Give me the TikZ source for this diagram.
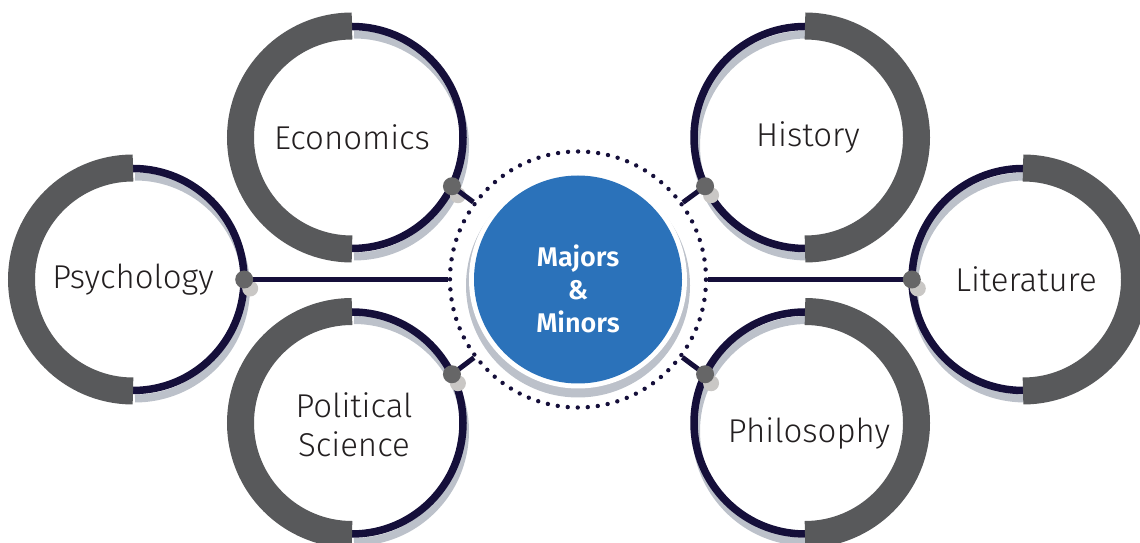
\documentclass[tikz,border=0pt]{standalone}
\usepackage{fontspec}
\setmainfont{Fira Sans}[UprightFont=* Light, BoldFont=* SemiBold]
\definecolor{ringgray}{HTML}{58595B}
\definecolor{ringnavy}{HTML}{150F3A}
\definecolor{shadowgray}{HTML}{BCC1CA}
\definecolor{jointgray}{HTML}{666667}
\definecolor{jointshadow}{HTML}{C9C7C5}
\definecolor{hubblue}{HTML}{2B72BA}
\definecolor{ink}{HTML}{231F20}

\begin{document}
\begin{tikzpicture}
    [x=1pt,y=1pt,
    subject/.style={circle,minimum size=222pt,inner sep=0pt},
    subject text/.style={text=ink,align=center,font=\fontsize{33}{39}\selectfont},
    hub/.style={circle,fill=hubblue,minimum size=208pt,inner sep=0pt},
    hub text/.style={text=white,align=center,font=\fontsize{27}{33}\selectfont\bfseries},
    ring/.style={circle,minimum size=256pt,inner sep=0pt,draw=ringnavy,line width=4.4pt,line cap=round,dash pattern=on 0pt off 10.05pt},
    gray arc/.style={draw=ringgray,line width=27pt},
    navy arc/.style={draw=ringnavy,line width=7.5pt},
    shadow arc/.style={draw=shadowgray,line width=8pt},
    link/.style={draw=ringnavy,line width=5pt},
    joint/.style={fill=jointgray},
    joint shadow/.style={fill=jointshadow}]

    \useasboundingbox (0,0) rectangle (1140,543);

    \node[subject,label={[subject text]center:Psychology}] (Psychology) at (133,263.5) {};
    \node[subject,label={[subject text]center:Economics}] (Economics) at (352,405.5) {};
    \node[subject,label={[subject text,xshift=2pt,yshift=-2pt]center:Political\\Science}] (PoliticalScience) at (352,120) {};
    \node[subject,label={[subject text,xshift=3pt]center:History}] (History) at (805,405.5) {};
    \node[subject,label={[subject text,xshift=3pt]center:Literature}] (Literature) at (1023,263.5) {};
    \node[subject,label={[subject text,xshift=4pt,yshift=-10pt]center:Philosophy}] (Philosophy) at (805,120) {};

    \coordinate (Center) at (578,263.5);
    \fill[shadowgray] (Center) ++(0,-6) circle (112);
    \fill[white] (Center) circle (109);
    \node[hub,label={[hub text,yshift=-9pt]center:Majors\\\&\\Minors}] (Majors) at (Center) {};
    \node[ring] (Ring) at (Center) {};

    % rings: gray half outside, navy half facing the hub
    \foreach \name/\side in {Psychology/1,Economics/1,PoliticalScience/1,History/-1,Literature/-1,Philosophy/-1} {
        \pgfmathsetmacro{\from}{-90*\side}
        \draw[shadow arc] (\name.center) ++(2,-8) ++(\from:111) arc[start angle=\from, end angle=\from+180, radius=111];
        \draw[navy arc] (\name.center) ++(\from:111) arc[start angle=\from, end angle=\from+180, radius=111];
        \draw[gray arc] (\name.center) ++(\from+180:111.5) arc[start angle=\from+180, end angle=\from+360, radius=111.5];
    }

    % joints and links to the hub
    \foreach \name/\angle in {Psychology/0,Economics/-26,PoliticalScience/26,History/206,Literature/180,Philosophy/154} {
        \fill[joint shadow] (\name.\angle) ++(6,-9) circle (8);
        \draw[link] (\name.\angle) -- (Ring);
        \fill[joint] (\name.\angle) circle (9);
    }
\end{tikzpicture}
\end{document}
